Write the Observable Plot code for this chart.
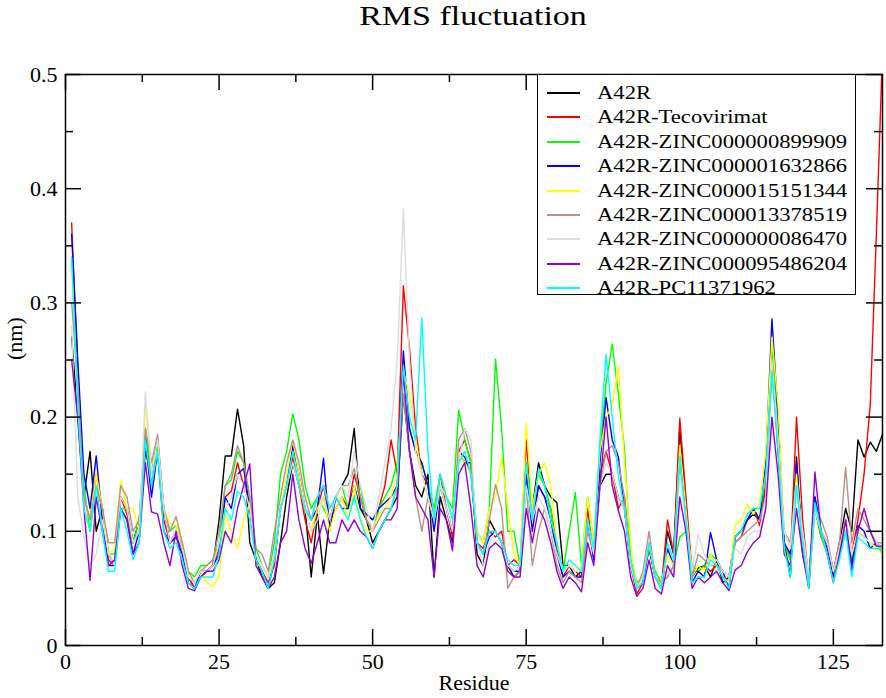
<!DOCTYPE html>
<html><head><meta charset="utf-8">
<script src="https://cdn.jsdelivr.net/npm/d3@7"></script>
<script src="https://cdn.jsdelivr.net/npm/@observablehq/plot@0.6"></script>
<style>
html,body{margin:0;padding:0;background:#fff;}
#wrap{position:relative;width:886px;height:698px;overflow:hidden;font-family:"Liberation Serif","Times New Roman",serif;color:#000;}
#title{height:34px;position:relative;}
#title span{position:absolute;left:473px;top:1px;line-height:30px;font-size:27px;white-space:nowrap;transform:translateX(-50%) scaleX(1.26);}
#legend{position:absolute;left:537px;top:74px;width:319px;height:221px;box-sizing:border-box;border:1.5px solid #000;background:#fff;}
.row{position:absolute;left:0;height:24px;width:100%;}
.sw{position:absolute;left:9px;width:33px;top:11px;height:0;border-top:2px solid #000;}
.lb{position:absolute;left:59px;top:0;line-height:24px;font-size:19.5px;white-space:nowrap;transform-origin:left center;transform:scaleX(1.16);}
svg{display:block;}
</style>
</head><body>
<div id="wrap">
<div id="title"><span>RMS fluctuation</span></div>
<div id="chart"></div>
<div id="legend"></div>
</div>
<script>
const residues = d3.range(1, 134);
const seriesNames = ["A42R","A42R-Tecovirimat","A42R-ZINC000000899909","A42R-ZINC000001632866","A42R-ZINC000015151344","A42R-ZINC000013378519","A42R-ZINC000000086470","A42R-ZINC000095486204","A42R-PC11371962"];
const seriesColors = ["#000000","#ff0000","#00ff00","#0000ff","#ffff00","#bc8f8f","#dcdcdc","#9400d3","#00ffff"];
const xMajor = [0,25,50,75,100,125];
const xMinor = [12.5,37.5,62.5,87.5,112.5];
const yMajor = [0,0.1,0.2,0.3,0.4,0.5];
const yMinor = [0.05,0.15,0.25,0.35,0.45];

const a42r = [
0.27,0.20,0.13,0.17,0.10,0.12,0.08,0.07,0.13,0.12,
0.09,0.11,0.17,0.15,0.18,0.12,0.09,0.095,0.085,0.06,
0.05,0.06,0.065,0.07,0.11,0.166,0.166,0.207,0.175,0.09,
0.075,0.06,0.05,0.055,0.09,0.13,0.16,0.14,0.12,0.06,
0.115,0.063,0.11,0.13,0.14,0.15,0.19,0.12,0.11,0.09,
0.10,0.11,0.12,0.13,0.22,0.17,0.14,0.13,0.15,0.06,
0.13,0.11,0.09,0.17,0.16,0.16,0.08,0.07,0.11,0.10,
0.09,0.07,0.06,0.065,0.15,0.12,0.16,0.14,0.13,0.125,
0.07,0.07,0.06,0.065,0.11,0.08,0.14,0.15,0.15,0.13,
0.12,0.07,0.05,0.06,0.085,0.06,0.05,0.10,0.08,0.19,
0.125,0.06,0.068,0.07,0.06,0.075,0.055,0.06,0.095,0.10,
0.11,0.115,0.11,0.14,0.25,0.17,0.09,0.06,0.165,0.08,
0.055,0.13,0.10,0.09,0.065,0.09,0.12,0.10,0.18,0.165,
0.178,0.17,0.185];
const tecovirimat = [
0.37,0.24,0.13,0.11,0.15,0.12,0.075,0.07,0.13,0.115,
0.09,0.10,0.19,0.14,0.17,0.11,0.09,0.10,0.085,0.06,
0.05,0.06,0.065,0.07,0.085,0.13,0.135,0.16,0.14,0.12,
0.075,0.065,0.055,0.07,0.12,0.14,0.165,0.14,0.11,0.09,
0.12,0.14,0.11,0.12,0.13,0.12,0.15,0.13,0.11,0.10,
0.12,0.14,0.18,0.15,0.315,0.26,0.19,0.15,0.14,0.11,
0.15,0.12,0.095,0.17,0.18,0.16,0.09,0.085,0.10,0.095,
0.10,0.07,0.075,0.07,0.18,0.11,0.14,0.13,0.12,0.085,
0.06,0.07,0.065,0.06,0.12,0.075,0.15,0.17,0.15,0.12,
0.13,0.07,0.045,0.055,0.085,0.06,0.05,0.11,0.08,0.199,
0.13,0.065,0.065,0.07,0.065,0.07,0.06,0.055,0.09,0.095,
0.11,0.12,0.105,0.14,0.25,0.18,0.09,0.075,0.20,0.11,
0.055,0.12,0.095,0.085,0.06,0.085,0.11,0.08,0.11,0.15,
0.21,0.36,0.52];
const zinc899909 = [
0.34,0.23,0.14,0.10,0.14,0.12,0.08,0.08,0.12,0.12,
0.09,0.11,0.19,0.15,0.175,0.12,0.10,0.105,0.09,0.065,
0.06,0.07,0.07,0.075,0.09,0.14,0.145,0.17,0.16,0.13,
0.085,0.07,0.06,0.09,0.15,0.17,0.203,0.18,0.14,0.12,
0.13,0.12,0.11,0.13,0.14,0.12,0.13,0.14,0.11,0.10,
0.12,0.13,0.14,0.16,0.22,0.19,0.17,0.16,0.14,0.12,
0.15,0.13,0.12,0.206,0.18,0.16,0.10,0.09,0.12,0.251,
0.19,0.10,0.10,0.07,0.16,0.12,0.15,0.14,0.12,0.08,
0.065,0.10,0.134,0.07,0.13,0.09,0.17,0.23,0.264,0.22,
0.172,0.075,0.055,0.06,0.085,0.065,0.055,0.06,0.07,0.095,
0.10,0.07,0.065,0.07,0.08,0.075,0.065,0.06,0.095,0.10,
0.115,0.12,0.11,0.15,0.26,0.20,0.09,0.075,0.14,0.09,
0.05,0.12,0.095,0.08,0.06,0.08,0.10,0.075,0.10,0.095,
0.09,0.09,0.08];
const zinc1632866 = [
0.36,0.25,0.15,0.12,0.166,0.11,0.07,0.07,0.12,0.11,
0.08,0.10,0.18,0.13,0.17,0.10,0.09,0.095,0.08,0.055,
0.05,0.065,0.065,0.07,0.08,0.13,0.12,0.15,0.155,0.12,
0.075,0.065,0.05,0.075,0.12,0.14,0.175,0.15,0.12,0.11,
0.12,0.164,0.10,0.13,0.12,0.12,0.14,0.12,0.115,0.11,
0.12,0.125,0.13,0.14,0.258,0.19,0.17,0.16,0.14,0.10,
0.14,0.12,0.10,0.17,0.165,0.15,0.09,0.08,0.095,0.10,
0.09,0.07,0.065,0.065,0.15,0.10,0.14,0.13,0.11,0.08,
0.06,0.065,0.06,0.06,0.11,0.075,0.16,0.217,0.18,0.165,
0.12,0.07,0.05,0.055,0.09,0.06,0.05,0.085,0.07,0.17,
0.12,0.055,0.065,0.06,0.099,0.075,0.065,0.05,0.095,0.10,
0.11,0.12,0.11,0.16,0.286,0.20,0.09,0.08,0.16,0.09,
0.055,0.13,0.10,0.085,0.06,0.08,0.11,0.07,0.105,0.10,
0.085,0.09,0.085];
const zinc15151344 = [
0.33,0.21,0.13,0.11,0.15,0.12,0.08,0.085,0.145,0.12,
0.12,0.10,0.21,0.16,0.17,0.12,0.107,0.105,0.09,0.06,
0.055,0.065,0.055,0.052,0.06,0.115,0.10,0.085,0.11,0.125,
0.07,0.07,0.06,0.075,0.12,0.15,0.18,0.15,0.12,0.10,
0.12,0.13,0.10,0.12,0.13,0.11,0.14,0.11,0.10,0.10,
0.115,0.12,0.13,0.15,0.24,0.22,0.18,0.15,0.13,0.11,
0.14,0.13,0.11,0.17,0.16,0.15,0.10,0.09,0.12,0.13,
0.165,0.12,0.08,0.07,0.195,0.12,0.15,0.16,0.14,0.09,
0.065,0.07,0.065,0.07,0.13,0.09,0.17,0.20,0.21,0.245,
0.16,0.09,0.05,0.06,0.09,0.06,0.055,0.08,0.07,0.175,
0.12,0.06,0.07,0.065,0.08,0.07,0.06,0.055,0.105,0.11,
0.124,0.115,0.125,0.17,0.27,0.21,0.10,0.085,0.15,0.09,
0.055,0.12,0.10,0.08,0.055,0.085,0.11,0.08,0.10,0.095,
0.09,0.085,0.08];
const zinc13378519 = [
0.30,0.23,0.13,0.11,0.14,0.12,0.09,0.09,0.14,0.13,
0.10,0.11,0.19,0.16,0.185,0.12,0.10,0.113,0.09,0.065,
0.055,0.065,0.07,0.075,0.10,0.14,0.15,0.175,0.16,0.13,
0.085,0.08,0.065,0.10,0.13,0.16,0.18,0.16,0.13,0.11,
0.13,0.14,0.12,0.13,0.14,0.14,0.155,0.13,0.11,0.10,
0.11,0.12,0.12,0.14,0.22,0.17,0.13,0.10,0.13,0.11,
0.14,0.12,0.10,0.18,0.19,0.17,0.09,0.08,0.11,0.141,
0.12,0.05,0.06,0.065,0.14,0.07,0.10,0.12,0.10,0.07,
0.055,0.065,0.06,0.055,0.10,0.08,0.14,0.17,0.175,0.16,
0.13,0.07,0.05,0.065,0.10,0.06,0.055,0.06,0.07,0.16,
0.11,0.06,0.08,0.075,0.07,0.07,0.065,0.06,0.09,0.095,
0.10,0.105,0.11,0.13,0.24,0.18,0.10,0.09,0.14,0.10,
0.06,0.12,0.11,0.095,0.065,0.09,0.156,0.09,0.12,0.11,
0.10,0.09,0.09];
const zinc86470 = [
0.28,0.13,0.095,0.07,0.08,0.11,0.08,0.07,0.13,0.12,
0.09,0.10,0.222,0.15,0.18,0.12,0.09,0.10,0.085,0.06,
0.055,0.065,0.065,0.07,0.09,0.12,0.13,0.15,0.14,0.12,
0.08,0.07,0.06,0.08,0.12,0.14,0.16,0.14,0.12,0.10,
0.11,0.13,0.11,0.13,0.14,0.13,0.17,0.14,0.12,0.10,
0.13,0.16,0.19,0.25,0.382,0.25,0.17,0.15,0.13,0.11,
0.14,0.12,0.10,0.16,0.19,0.18,0.09,0.07,0.09,0.10,
0.09,0.07,0.065,0.07,0.14,0.11,0.13,0.12,0.10,0.08,
0.065,0.07,0.065,0.065,0.11,0.08,0.14,0.16,0.15,0.13,
0.12,0.07,0.05,0.06,0.09,0.06,0.05,0.065,0.06,0.15,
0.11,0.065,0.097,0.08,0.07,0.075,0.065,0.06,0.085,0.08,
0.095,0.10,0.10,0.13,0.25,0.18,0.10,0.085,0.14,0.10,
0.06,0.12,0.10,0.09,0.065,0.085,0.11,0.08,0.10,0.095,
0.09,0.09,0.085];
const zinc95486204 = [
0.25,0.20,0.12,0.057,0.13,0.10,0.07,0.075,0.12,0.11,
0.08,0.09,0.16,0.117,0.115,0.09,0.07,0.10,0.07,0.05,
0.048,0.06,0.065,0.065,0.075,0.10,0.09,0.12,0.14,0.159,
0.07,0.06,0.05,0.06,0.09,0.10,0.15,0.11,0.085,0.072,
0.09,0.11,0.09,0.09,0.11,0.10,0.11,0.10,0.095,0.085,
0.10,0.11,0.11,0.12,0.24,0.17,0.13,0.12,0.11,0.06,
0.12,0.11,0.083,0.15,0.16,0.12,0.07,0.06,0.085,0.09,
0.085,0.065,0.06,0.06,0.12,0.09,0.12,0.11,0.09,0.065,
0.05,0.06,0.055,0.047,0.09,0.07,0.14,0.20,0.14,0.118,
0.10,0.06,0.043,0.05,0.075,0.05,0.045,0.07,0.06,0.13,
0.10,0.05,0.06,0.055,0.06,0.065,0.055,0.048,0.066,0.07,
0.082,0.09,0.095,0.12,0.20,0.15,0.08,0.07,0.12,0.08,
0.05,0.152,0.10,0.08,0.055,0.08,0.11,0.065,0.10,0.12,
0.10,0.087,0.087];
const pc11371962 = [
0.34,0.21,0.12,0.10,0.14,0.10,0.065,0.065,0.12,0.10,
0.075,0.09,0.18,0.14,0.17,0.10,0.085,0.09,0.075,0.055,
0.05,0.06,0.06,0.06,0.08,0.12,0.11,0.135,0.13,0.11,
0.075,0.065,0.05,0.075,0.12,0.14,0.17,0.14,0.12,0.11,
0.13,0.14,0.12,0.13,0.12,0.11,0.13,0.11,0.095,0.085,
0.10,0.11,0.12,0.14,0.245,0.20,0.18,0.287,0.17,0.11,
0.15,0.13,0.11,0.16,0.17,0.15,0.09,0.08,0.10,0.10,
0.09,0.075,0.07,0.07,0.16,0.11,0.155,0.14,0.11,0.09,
0.065,0.075,0.07,0.065,0.11,0.085,0.18,0.255,0.20,0.148,
0.12,0.075,0.05,0.055,0.09,0.06,0.05,0.09,0.075,0.165,
0.11,0.055,0.06,0.06,0.075,0.07,0.06,0.05,0.095,0.10,
0.115,0.12,0.12,0.15,0.24,0.17,0.085,0.06,0.14,0.09,
0.05,0.125,0.10,0.08,0.055,0.075,0.10,0.06,0.095,0.09,
0.085,0.085,0.085];

const seriesValues = [a42r, tecovirimat, zinc899909, zinc1632866, zinc15151344, zinc13378519, zinc86470, zinc95486204, pc11371962];

const W = 886, H = 664;
const mT = 40, mB = 53, mL = 65, mR = 4;
const innerW = W - mL - mR, innerH = H - mT - mB;
const majorLen = 16, minorLen = 8;

const lineMarks = seriesValues.map((vals, i) =>
  Plot.lineY(vals, {x: residues.slice(0, vals.length), y: d => d, stroke: seriesColors[i], strokeWidth: 1.4, clip: true})
);

const tickStyle = {stroke: "black", strokeWidth: 1.5};
const chart = Plot.plot({
  width: W, height: H,
  marginTop: mT, marginBottom: mB, marginLeft: mL, marginRight: mR,
  style: {fontFamily: "'Liberation Serif', 'Times New Roman', serif", fontSize: "22px", background: "white", color: "black"},
  x: {domain: [0, 133]},
  y: {domain: [0, 0.5]},
  marks: [
    ...lineMarks,
    Plot.frame({stroke: "black", strokeWidth: 1.5}),
    Plot.ruleX(xMajor, {...tickStyle, insetTop: innerH - majorLen}),
    Plot.ruleX(xMajor, {...tickStyle, insetBottom: innerH - majorLen}),
    Plot.ruleX(xMinor, {...tickStyle, insetTop: innerH - minorLen}),
    Plot.ruleX(xMinor, {...tickStyle, insetBottom: innerH - minorLen}),
    Plot.ruleY(yMajor, {...tickStyle, insetRight: innerW - majorLen}),
    Plot.ruleY(yMajor, {...tickStyle, insetLeft: innerW - majorLen}),
    Plot.ruleY(yMinor, {...tickStyle, insetRight: innerW - minorLen}),
    Plot.ruleY(yMinor, {...tickStyle, insetLeft: innerW - minorLen}),
    Plot.axisX(xMajor, {tickSize: 0, tickPadding: 8, fontSize: 22, label: null}),
    Plot.axisY(yMajor, {tickSize: 0, tickPadding: 8, fontSize: 22, label: null, tickFormat: d => d === 0 ? "0" : d.toFixed(1)}),
    Plot.text(["Residue"], {frameAnchor: "bottom", dy: 44, fontSize: 22}),
    Plot.text(["(nm)"], {frameAnchor: "left", dx: -51, rotate: -90, fontSize: 22})
  ]
});
document.getElementById("chart").appendChild(chart);

const legend = document.getElementById("legend");
seriesNames.forEach((name, i) => {
  const row = document.createElement("div");
  row.className = "row";
  row.style.top = (6 + i * 24.4) + "px";
  const sw = document.createElement("div");
  sw.className = "sw";
  sw.style.borderTopColor = seriesColors[i];
  const lb = document.createElement("div");
  lb.className = "lb";
  lb.textContent = name;
  row.appendChild(sw);
  row.appendChild(lb);
  legend.appendChild(row);
});
</script>
</body></html>
